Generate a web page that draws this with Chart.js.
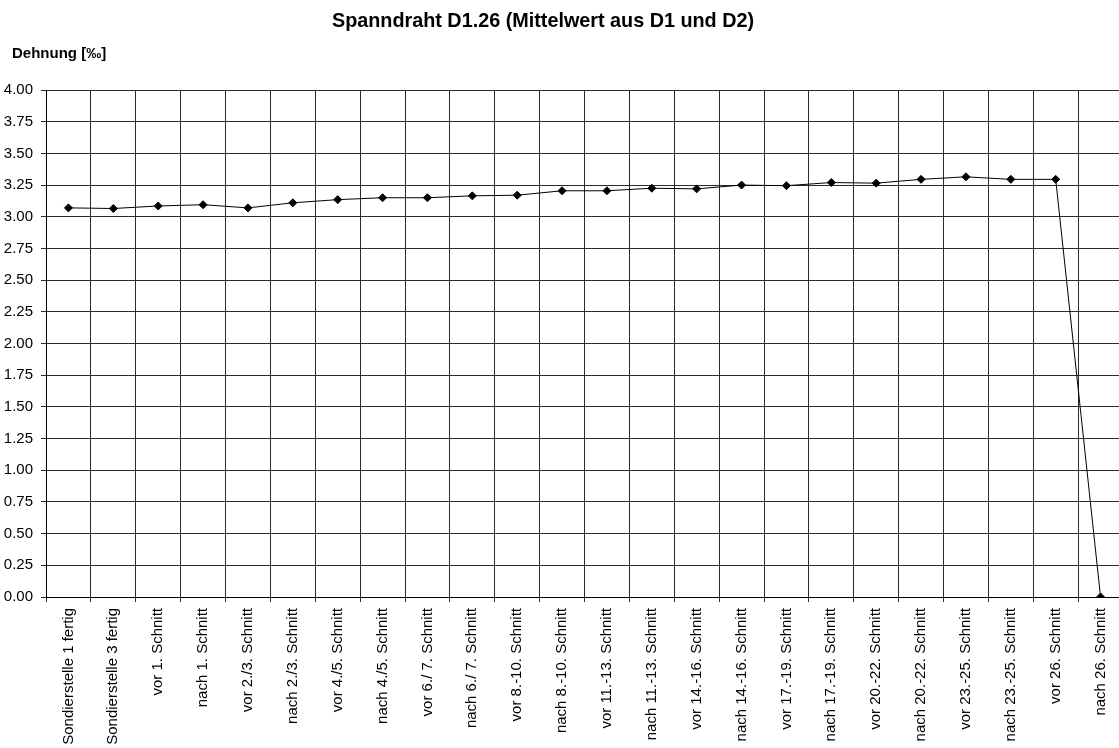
<!DOCTYPE html>
<html>
<head>
<meta charset="utf-8">
<script src="https://cdn.jsdelivr.net/npm/chart.js@4/dist/chart.umd.min.js"></script>
<style>
html,body{margin:0;padding:0;background:#fff;overflow:hidden;}
#wrap{position:relative;width:1128px;height:748px;}
</style>
</head>
<body>
<div id="wrap"><canvas id="c"></canvas></div>
<script>
const chartTitle = "Spanndraht D1.26 (Mittelwert aus D1 und D2)";
const yAxisLabel = "Dehnung [‰]";
const categories = [
  "Sondierstelle 1 fertig", "Sondierstelle 3 fertig", "vor 1. Schnitt", "nach 1. Schnitt",
  "vor 2./3. Schnitt", "nach 2./3. Schnitt", "vor 4./5. Schnitt", "nach 4./5. Schnitt",
  "vor 6./ 7. Schnitt", "nach 6./ 7. Schnitt", "vor 8.-10. Schnitt", "nach 8.-10. Schnitt",
  "vor 11.-13. Schnitt", "nach 11.-13. Schnitt", "vor 14.-16. Schnitt", "nach 14.-16. Schnitt",
  "vor 17.-19. Schnitt", "nach 17.-19. Schnitt", "vor 20.-22. Schnitt", "nach 20.-22. Schnitt",
  "vor 23.-25. Schnitt", "nach 23.-25. Schnitt", "vor 26. Schnitt", "nach 26. Schnitt"
];
const dehnung = [
  3.07, 3.065, 3.085, 3.095, 3.07, 3.11, 3.135, 3.15, 3.15, 3.165, 3.17, 3.205,
  3.205, 3.225, 3.22, 3.25, 3.245, 3.27, 3.265, 3.295, 3.315, 3.295, 3.295, 0
];
const yMin = 0, yMax = 4, yStep = 0.25;

const FONT = '"Liberation Sans", Arial, Helvetica, sans-serif';

const textPlugin = {
  id: 'textPlugin',
  afterDraw(chart) {
    const ctx = chart.ctx;
    ctx.save();
    ctx.fillStyle = '#000';
    ctx.textBaseline = 'alphabetic';
    ctx.font = 'bold 19.8px ' + FONT;
    ctx.textAlign = 'center';
    ctx.fillText(chartTitle, 543, 26.5);
    ctx.font = 'bold 15px ' + FONT;
    ctx.textAlign = 'left';
    ctx.fillText(yAxisLabel, 12, 58);
    ctx.restore();
  }
};

new Chart(document.getElementById('c'), {
  type: 'line',
  data: {
    labels: categories,
    datasets: [{
      data: dehnung,
      borderColor: '#000',
      backgroundColor: '#000',
      borderWidth: 1,
      pointStyle: 'rectRot',
      pointRadius: 4,
      pointHoverRadius: 4,
      tension: 0,
      fill: false
    }]
  },
  options: {
    responsive: true,
    maintainAspectRatio: false,
    animation: false,
    events: [],
    layout: { padding: { top: 90, right: 1, left: 0, bottom: 0 } },
    plugins: { legend: { display: false }, title: { display: false }, tooltip: { enabled: false } },
    scales: {
      x: {
        type: 'category',
        offset: true,
        grid: { offset: true, color: '#2a2a2a', lineWidth: 1, tickLength: 5, drawTicks: true },
        border: { color: '#000', width: 1 },
        ticks: {
          autoSkip: false, minRotation: 90, maxRotation: 90,
          color: '#000', padding: 6,
          font: { family: FONT, size: 15 }
        },
        afterFit(scale) { scale.height = 151; }
      },
      y: {
        min: yMin, max: yMax,
        grid: { color: '#2a2a2a', lineWidth: 1, tickLength: 5, drawTicks: true },
        border: { color: '#000', width: 1 },
        ticks: {
          stepSize: yStep, color: '#000', padding: 8,
          font: { family: FONT, size: 15 },
          callback: v => Number(v).toFixed(2)
        },
        afterFit(scale) { scale.width = 46; }
      }
    }
  },
  plugins: [textPlugin]
});
</script>
</body>
</html>
